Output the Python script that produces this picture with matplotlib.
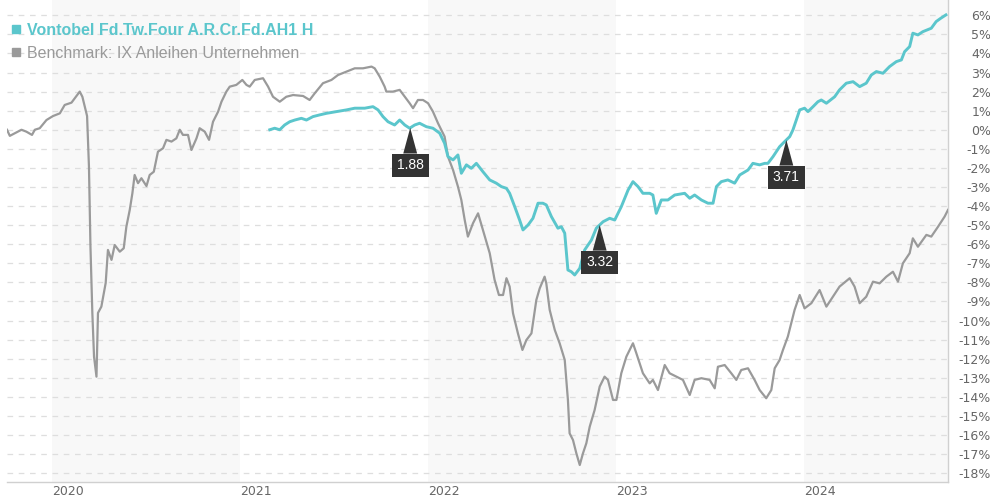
import numpy as np
import matplotlib
matplotlib.use('Agg')
import matplotlib.pyplot as plt
from matplotlib.lines import Line2D

fund_name = "Vontobel Fd.Tw.Four A.R.Cr.Fd.AH1 H"
bench_name = "Benchmark: IX Anleihen Unternehmen"

# benchmark, decimal year / performance in %
bench_t = [2019.762, 2019.777, 2019.839, 2019.865, 2019.895, 2019.910, 2019.936, 2019.972,
           2020.007, 2020.043, 2020.069, 2020.105, 2020.149, 2020.163, 2020.176, 2020.188,
           2020.198, 2020.206, 2020.216, 2020.225, 2020.238, 2020.246, 2020.264, 2020.287,
           2020.299, 2020.318, 2020.335, 2020.362, 2020.383, 2020.397, 2020.415, 2020.429,
           2020.441, 2020.459, 2020.477, 2020.504, 2020.521, 2020.543, 2020.565, 2020.592,
           2020.610, 2020.637, 2020.663, 2020.681, 2020.698, 2020.725, 2020.743, 2020.770,
           2020.787, 2020.814, 2020.837, 2020.858, 2020.885, 2020.903, 2020.929, 2020.947,
           2020.982, 2021.014, 2021.036, 2021.053, 2021.080, 2021.124, 2021.151, 2021.177,
           2021.213, 2021.248, 2021.284, 2021.337, 2021.372, 2021.399, 2021.443, 2021.488,
           2021.523, 2021.568, 2021.612, 2021.656, 2021.701, 2021.718, 2021.745, 2021.771,
           2021.780, 2021.815, 2021.851, 2021.878, 2021.904, 2021.922, 2021.948, 2021.975,
           2022.002, 2022.028, 2022.055, 2022.090, 2022.108, 2022.135, 2022.161, 2022.179,
           2022.197, 2022.214, 2022.241, 2022.268, 2022.294, 2022.330, 2022.356, 2022.379,
           2022.401, 2022.419, 2022.436, 2022.454, 2022.480, 2022.504, 2022.525, 2022.552,
           2022.578, 2022.596, 2022.622, 2022.631, 2022.649, 2022.676, 2022.702, 2022.729,
           2022.746, 2022.755, 2022.773, 2022.791, 2022.809, 2022.826, 2022.844, 2022.862,
           2022.888, 2022.915, 2022.941, 2022.959, 2022.986, 2023.004, 2023.030, 2023.057,
           2023.092, 2023.110, 2023.145, 2023.181, 2023.198, 2023.225, 2023.261, 2023.287,
           2023.323, 2023.358, 2023.394, 2023.420, 2023.456, 2023.500, 2023.527, 2023.544,
           2023.580, 2023.615, 2023.642, 2023.668, 2023.704, 2023.739, 2023.766, 2023.801,
           2023.828, 2023.846, 2023.872, 2023.890, 2023.916, 2023.934, 2023.952, 2023.979,
           2024.005, 2024.041, 2024.085, 2024.121, 2024.156, 2024.191, 2024.245, 2024.271,
           2024.298, 2024.333, 2024.369, 2024.404, 2024.440, 2024.475, 2024.502, 2024.528,
           2024.564, 2024.581, 2024.608, 2024.653, 2024.679, 2024.715, 2024.750, 2024.768]
bench_v = [0.00, -0.32, 0.00, -0.10, -0.27, 0.00, 0.08, 0.51,
           0.72, 0.86, 1.30, 1.42, 2.00, 1.73, 1.21, 0.72,
           -1.93, -6.13, -9.60, -11.89, -12.94, -9.60, -9.27, -8.03,
           -6.30, -6.82, -6.04, -6.39, -6.21, -5.08, -4.20, -3.33,
           -2.37, -2.80, -2.54, -2.95, -2.37, -2.20, -1.15, -0.97,
           -0.53, -0.62, -0.45, 0.00, -0.27, -0.27, -1.06, -0.45,
           0.08, -0.10, -0.53, 0.42, 0.95, 1.47, 2.00, 2.26,
           2.35, 2.61, 2.35, 2.26, 2.61, 2.70, 2.26, 1.73,
           1.47, 1.73, 1.82, 1.77, 1.56, 1.91, 2.44, 2.61,
           2.87, 3.05, 3.22, 3.22, 3.31, 3.22, 2.78, 2.26,
           2.00, 2.00, 2.09, 1.73, 1.39, 1.13, 1.56, 1.56,
           1.39, 0.95, 0.34, -0.36, -1.41, -2.11, -2.98, -3.68,
           -4.73, -5.60, -4.90, -4.38, -5.25, -6.47, -7.87, -8.66,
           -8.66, -7.78, -8.22, -9.62, -10.67, -11.54, -11.02, -10.67,
           -8.92, -8.31, -7.70, -8.05, -9.44, -10.49, -11.19, -12.06,
           -14.16, -15.91, -16.26, -16.96, -17.57, -16.96, -16.43, -15.56,
           -14.69, -13.46, -12.94, -13.11, -14.16, -14.16, -12.76, -11.89,
           -11.19, -11.71, -12.76, -13.29, -13.11, -13.64, -12.33, -12.76,
           -12.94, -13.11, -13.90, -13.11, -13.02, -13.11, -13.55, -12.42,
           -12.33, -12.76, -13.11, -12.59, -12.50, -13.11, -13.64, -14.07,
           -13.64, -12.50, -12.07, -11.54, -10.84, -10.14, -9.44, -8.66,
           -9.36, -9.09, -8.40, -9.27, -8.75, -8.22, -7.78, -8.22,
           -9.09, -8.75, -7.96, -8.05, -7.70, -7.44, -7.96, -7.00,
           -6.47, -5.69, -6.13, -5.51, -5.60, -5.08, -4.55, -4.20]

# fund
fund_t = [2021.160, 2021.186, 2021.213, 2021.239, 2021.266, 2021.293, 2021.328, 2021.355,
          2021.390, 2021.426, 2021.461, 2021.514, 2021.568, 2021.612, 2021.665, 2021.709,
          2021.736, 2021.762, 2021.789, 2021.824, 2021.851, 2021.878, 2021.904, 2021.931,
          2021.957, 2021.993, 2022.028, 2022.064, 2022.090, 2022.108, 2022.135, 2022.161,
          2022.179, 2022.206, 2022.232, 2022.259, 2022.294, 2022.330, 2022.365, 2022.392,
          2022.419, 2022.436, 2022.463, 2022.489, 2022.507, 2022.534, 2022.560, 2022.587,
          2022.613, 2022.631, 2022.658, 2022.693, 2022.711, 2022.729, 2022.746, 2022.764,
          2022.782, 2022.809, 2022.835, 2022.871, 2022.897, 2022.933, 2022.968, 2022.995,
          2023.030, 2023.066, 2023.092, 2023.119, 2023.145, 2023.181, 2023.198, 2023.216,
          2023.243, 2023.278, 2023.314, 2023.367, 2023.394, 2023.420, 2023.456, 2023.491,
          2023.518, 2023.536, 2023.562, 2023.597, 2023.633, 2023.660, 2023.704, 2023.730,
          2023.766, 2023.793, 2023.810, 2023.837, 2023.872, 2023.899, 2023.926, 2023.943,
          2023.961, 2023.979, 2024.005, 2024.023, 2024.050, 2024.076, 2024.094, 2024.121,
          2024.165, 2024.191, 2024.227, 2024.263, 2024.298, 2024.333, 2024.360, 2024.387,
          2024.422, 2024.457, 2024.493, 2024.520, 2024.537, 2024.564, 2024.581, 2024.608,
          2024.634, 2024.679, 2024.705, 2024.729, 2024.757]
fund_v = [0.00, 0.08, 0.00, 0.25, 0.42, 0.51, 0.60, 0.51,
          0.69, 0.78, 0.86, 0.95, 1.04, 1.13, 1.13, 1.21,
          1.04, 0.69, 0.42, 0.25, 0.51, 0.25, 0.08, 0.25,
          0.34, 0.16, 0.08, -0.18, -0.71, -1.41, -1.58, -1.32,
          -2.28, -1.84, -2.02, -1.76, -2.20, -2.63, -2.80, -2.98,
          -3.07, -3.33, -4.03, -4.73, -5.25, -4.99, -4.64, -3.85,
          -3.85, -3.94, -4.55, -5.16, -5.08, -5.42, -7.35, -7.44,
          -7.61, -7.26, -6.30, -5.78, -5.16, -4.82, -4.64, -4.73,
          -4.03, -3.16, -2.72, -2.98, -3.33, -3.33, -3.42, -4.38,
          -3.68, -3.68, -3.42, -3.33, -3.59, -3.42, -3.68, -3.85,
          -3.85, -2.98, -2.72, -2.63, -2.80, -2.37, -2.11, -1.76,
          -1.84, -1.76, -1.76, -1.41, -0.89, -0.62, -0.36, -0.01,
          0.51, 1.04, 1.13, 0.95, 1.21, 1.47, 1.56, 1.39,
          1.73, 2.09, 2.44, 2.52, 2.26, 2.44, 2.87, 3.05,
          2.96, 3.31, 3.57, 3.66, 4.09, 4.36, 5.06, 4.97,
          5.14, 5.32, 5.67, 5.84, 6.02]

# distributions
div_t = [2021.907, 2022.915, 2023.908]
div_lbl = ["1.88", "3.32", "3.71"]

years = [2020, 2021, 2022, 2023, 2024]
yticks = list(range(-18, 7))

teal = '#5bc6cc'
grey = '#9a9a9a'

fig = plt.figure(figsize=(9.9, 5.0), dpi=100)
ax = fig.add_axes([7 / 990, 18 / 500, 941 / 990, 482 / 500])

# shaded every other year
for yr in years[::2]:
    ax.axvspan(yr, yr + 1, color='#f8f8f8', lw=0, zorder=0)

ax.set_xlim(bench_t[0], bench_t[-1])
ax.set_ylim(-18.46, 6.8)

ax.set_yticks(yticks)
ax.set_yticklabels([f"{v}%" for v in yticks])
ax.grid(axis='y', color='#dedede', lw=0.9, ls=(0, (4.5, 4.5)), zorder=1)
ax.set_axisbelow(True)

ax.plot(bench_t, bench_v, color=grey, lw=1.6, zorder=3)
ax.plot(fund_t, fund_v, color=teal, lw=2.1, zorder=4)

for t, lbl in zip(div_t, div_lbl):
    yv = np.interp(t, fund_t, fund_v)
    ax.annotate(lbl, xy=(t, yv), xytext=(0, -27), textcoords='offset points',
                ha='center', va='center', color='white', fontsize=10,
                family='Liberation Sans',
                bbox=dict(boxstyle='square,pad=0.35', fc='#333333', ec='none'),
                arrowprops=dict(arrowstyle='wedge,tail_width=1.0,shrink_factor=0.5',
                                fc='#333333', ec='none', shrinkA=0, shrinkB=0),
                zorder=6)

ax.yaxis.tick_right()
ax.tick_params(axis='y', length=0, pad=31, labelsize=9, labelcolor='#666666')
plt.setp(ax.get_yticklabels(), ha='right')

ax.set_xticks(years)
ax.set_xticklabels([str(y) for y in years])
ax.tick_params(axis='x', length=0, pad=2, labelsize=9, labelcolor='#666666')
plt.setp(ax.get_xticklabels(), ha='left')

for s in ['top', 'left']:
    ax.spines[s].set_visible(False)
for s in ['right', 'bottom']:
    ax.spines[s].set_color('#d0d0d0')
    ax.spines[s].set_linewidth(1.0)

handles = [Line2D([], [], ls='', marker='s', ms=6, color=teal),
           Line2D([], [], ls='', marker='s', ms=6, color=grey)]
leg = ax.legend(handles, [fund_name, bench_name], loc='upper left',
                bbox_to_anchor=(-0.0096, 0.979),
                frameon=False, prop={'family': 'Liberation Sans', 'size': 11.5},
                handlelength=0.6, handletextpad=0.4, labelspacing=0.5,
                borderaxespad=0.3, borderpad=0.5)
txt = leg.get_texts()
txt[0].set_color(teal)
txt[0].set_fontweight('bold')
txt[1].set_color(grey)

fig.savefig('out.png', dpi=100)
